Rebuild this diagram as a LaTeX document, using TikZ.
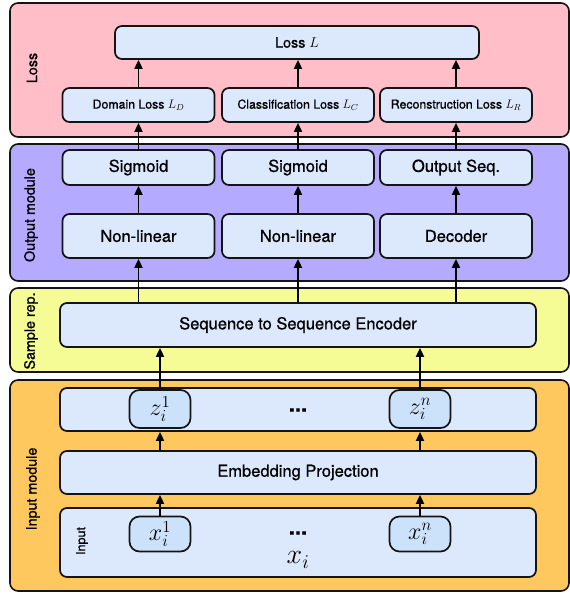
\RequirePackage{fix-cm}
\documentclass[tikz,border=0pt]{standalone}
\usepackage[no-math]{fontspec}
\setmainfont{TeX Gyre Heros}[FakeBold=0.8]
\usetikzlibrary{arrows.meta}
\definecolor{losspink}{RGB}{255,190,200}
\definecolor{outpurple}{RGB}{180,170,255}
\definecolor{sampyellow}{RGB}{245,252,150}
\definecolor{inorange}{RGB}{255,200,95}
\definecolor{boxblue}{RGB}{220,232,252}
\definecolor{nodeblue}{RGB}{204,226,250}
\definecolor{edge}{RGB}{20,20,20}
\tikzset{
  panel/.style={draw=edge, line width=1.6pt, rounded corners=8pt, inner sep=0pt},
  box/.style={draw=edge, fill=boxblue, line width=1.7pt, rounded corners=7pt, inner sep=0pt, font=\fontsize{16.5}{18}\selectfont},
  smallbox/.style={box, minimum width=152pt, minimum height=34pt, font=\fontsize{12.3}{14}\selectfont},
  midbox/.style={box, minimum width=152pt},
  widebox/.style={box, minimum width=476pt},
  varnode/.style={draw=edge, fill=nodeblue, line width=1.7pt, rounded corners=10pt, minimum width=61pt, inner sep=0pt, font=\fontsize{24}{26}\selectfont},
  plabel/.style={rotate=90, font=\fontsize{14.3}{16}\selectfont},
  dotsnode/.style={font=\fontsize{22}{22}\selectfont\bfseries, inner sep=0pt},
  arr/.style={line width=1.7pt, draw=black, -{Triangle[length=9pt,width=8pt]}}
}
\begin{document}
\begin{tikzpicture}[x=1pt,y=-1pt]
\useasboundingbox (0,0) rectangle (570,598);
% panels
\node[panel, fill=losspink, minimum width=559pt, minimum height=134pt] (ploss) at (289.5,70) {};
\node[panel, fill=outpurple, minimum width=559pt, minimum height=137pt] (pout) at (289.5,212.5) {};
\node[panel, fill=sampyellow, minimum width=559pt, minimum height=84pt] (psamp) at (289.5,330) {};
\node[panel, fill=inorange, minimum width=559pt, minimum height=211pt] (pin) at (289.5,485.5) {};
\node[plabel] (lloss) at (32,68) {Loss};
\node[plabel] (lout) at (31,215) {Output module};
\node[plabel] (lsamp) at (31,331) {Sample rep.};
\node[plabel] (lin) at (33,489) {Input module};
% loss
\node[box, minimum width=364pt, minimum height=33pt, font=\fontsize{14.3}{16}\selectfont] (loss) at (297,42.5) {Loss $L$};
\node[smallbox] (dl) at (138.5,105) {Domain Loss $L_D$};
\node[smallbox] (cl) at (298,105) {Classification Loss $L_C$};
\node[smallbox] (rl) at (456,105) {Reconstruction Loss $L_R$};
% output module
\node[midbox, minimum height=35pt] (s1) at (138.5,167.5) {Sigmoid};
\node[midbox, minimum height=35pt] (s2) at (298,167.5) {Sigmoid};
\node[midbox, minimum height=35pt] (s3) at (456,167.5) {Output Seq.};
\node[midbox, minimum height=44pt] (n1) at (138.5,236) {Non-linear};
\node[midbox, minimum height=44pt] (n2) at (298,236) {Non-linear};
\node[midbox, minimum height=44pt] (n3) at (456,236) {Decoder};
% sample rep
\node[widebox, minimum height=44pt] (seq) at (298,325) {Sequence to Sequence Encoder};
% input module
\node[widebox, minimum height=43pt] (zrow) at (298,409.5) {};
\node[varnode, minimum height=38pt] (z1) at (160,409) {$z_i^1$};
\node[varnode, minimum height=38pt] (zn) at (420,409) {$z_i^n$};
\node[dotsnode] (zdots) at (298,410) {...};
\node[widebox, minimum height=43pt] (emb) at (298,472.5) {Embedding Projection};
\node[widebox, minimum height=69pt] (inp) at (298,542.5) {};
\node[rotate=90, font=\fontsize{12.5}{14}\selectfont] (linp) at (82,541) {Input};
\node[varnode, minimum height=35pt] (x1) at (160,534) {$x_i^1$};
\node[varnode, minimum height=35pt] (xn) at (420,534) {$x_i^n$};
\node[dotsnode] (xdots) at (298,533) {...};
\node[inner sep=0pt, font=\fontsize{28}{30}\selectfont] (xi) at (298,560) {$x_i$};
% arrows
\draw[arr] (x1.north) -- (x1 |- emb.south);
\draw[arr] (xn.north) -- (xn |- emb.south);
\draw[arr] (x1 |- emb.north) -- (x1 |- zrow.south);
\draw[arr] (xn |- emb.north) -- (xn |- zrow.south);
\draw[arr] (z1.north) -- (z1 |- seq.south);
\draw[arr] (zn.north) -- (zn |- seq.south);
\draw[arr] (n1 |- seq.north) -- (n1.south);
\draw[arr] (n2 |- seq.north) -- (n2.south);
\draw[arr] (n3 |- seq.north) -- (n3.south);
\draw[arr] (n1.north) -- (s1.south);
\draw[arr] (n2.north) -- (s2.south);
\draw[arr] (n3.north) -- (s3.south);
\draw[arr] (s1.north) -- (dl.south);
\draw[arr] (s2.north) -- (cl.south);
\draw[arr] (s3.north) -- (rl.south);
\draw[arr] (dl.north) -- (dl |- loss.south);
\draw[arr] (cl.north) -- (cl |- loss.south);
\draw[arr] (rl.north) -- (rl |- loss.south);
\end{tikzpicture}
\end{document}
